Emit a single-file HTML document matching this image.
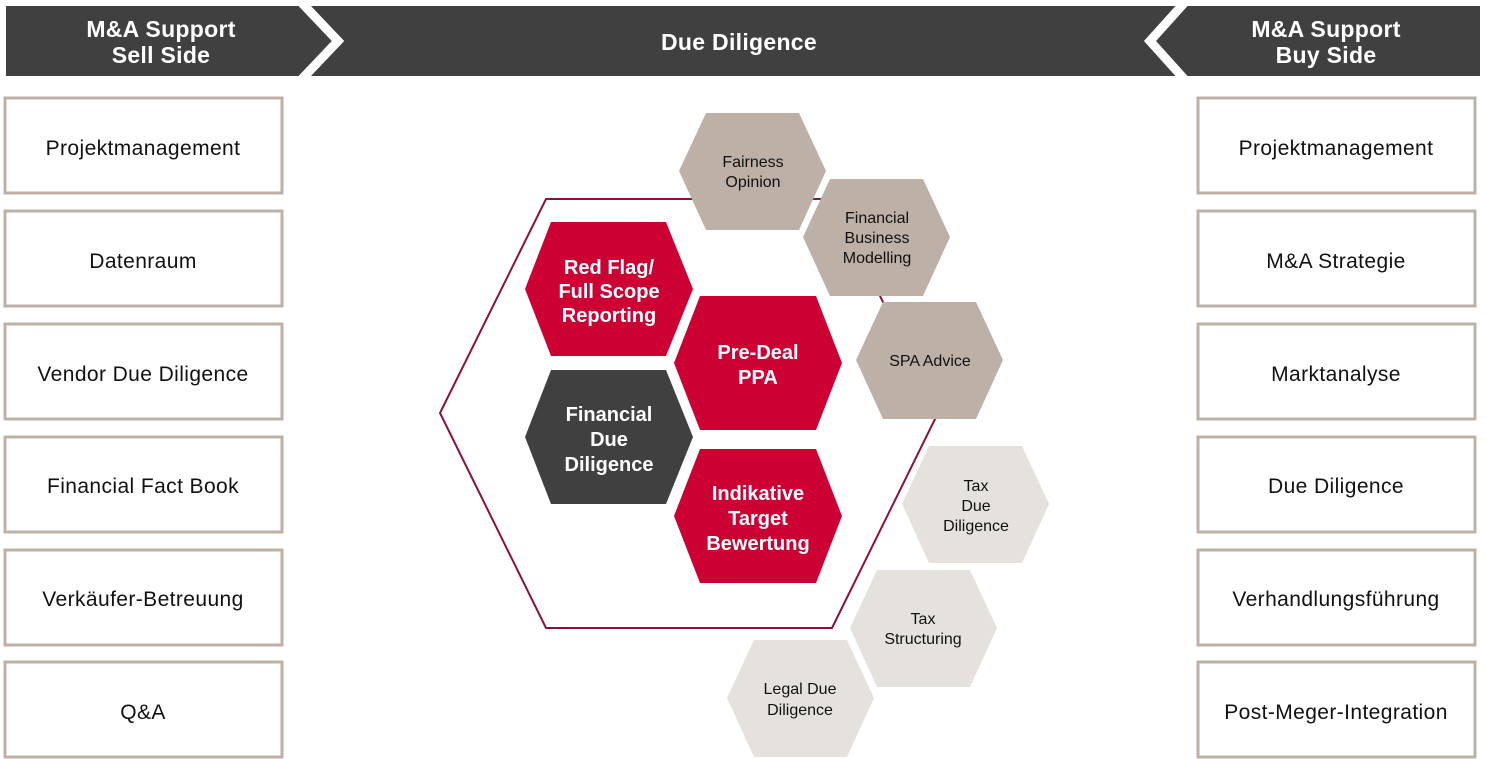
<!DOCTYPE html>
<html><head><meta charset="utf-8"><style>
html,body{margin:0;padding:0;background:#fff;}
svg{display:block;}
text{font-family:"Liberation Sans",sans-serif;}
.bx{fill:#fff;stroke:#bcb0a7;stroke-width:3;}
.bt{font-size:21px;fill:#111;text-anchor:middle;letter-spacing:0.4px;}
.ht{font-size:23px;fill:#fff;text-anchor:middle;font-weight:bold;letter-spacing:0.3px;}
.rt{font-size:20px;fill:#fff;text-anchor:middle;font-weight:bold;}
.st{font-size:16px;fill:#111;text-anchor:middle;}
</style></head><body>
<svg width="1486" height="759" viewBox="0 0 1486 759" xmlns="http://www.w3.org/2000/svg">
<rect x="6" y="6" width="1474" height="70" fill="#404040"/>
<polyline points="300,1 338,41 300,81" fill="none" stroke="#fff" stroke-width="9"/>
<polyline points="1186,1 1150,41 1186,81" fill="none" stroke="#fff" stroke-width="9"/>
<text class="ht" x="161" y="37">M&amp;A Support</text>
<text class="ht" x="161" y="63">Sell Side</text>
<text class="ht" x="739" y="50">Due Diligence</text>
<text class="ht" x="1326" y="37">M&amp;A Support</text>
<text class="ht" x="1326" y="63">Buy Side</text>

<g>
<rect class="bx" x="5" y="98" width="277" height="95"/><text class="bt" x="143" y="155">Projektmanagement</text>
<rect class="bx" x="5" y="211" width="277" height="95"/><text class="bt" x="143" y="268">Datenraum</text>
<rect class="bx" x="5" y="324" width="277" height="95"/><text class="bt" x="143" y="381">Vendor Due Diligence</text>
<rect class="bx" x="5" y="437" width="277" height="95"/><text class="bt" x="143" y="493">Financial Fact Book</text>
<rect class="bx" x="5" y="550" width="277" height="95"/><text class="bt" x="143" y="606">Verkäufer-Betreuung</text>
<rect class="bx" x="5" y="662" width="277" height="95"/><text class="bt" x="143" y="719">Q&amp;A</text>

<rect class="bx" x="1198" y="98" width="277" height="95"/><text class="bt" x="1336" y="155">Projektmanagement</text>
<rect class="bx" x="1198" y="211" width="277" height="95"/><text class="bt" x="1336" y="268">M&amp;A Strategie</text>
<rect class="bx" x="1198" y="324" width="277" height="95"/><text class="bt" x="1336" y="381">Marktanalyse</text>
<rect class="bx" x="1198" y="437" width="277" height="95"/><text class="bt" x="1336" y="493">Due Diligence</text>
<rect class="bx" x="1198" y="550" width="277" height="95"/><text class="bt" x="1336" y="606">Verhandlungsführung</text>
<rect class="bx" x="1198" y="662" width="277" height="95"/><text class="bt" x="1336" y="719">Post-Meger-Integration</text>
</g>

<polygon points="546,199 832,199 938,413 832,628 546,628 440,413" fill="none" stroke="#8c1038" stroke-width="2"/>

<!-- red hexes: w168 h134 inset 26 -->
<polygon points="525,289 551,222 666,222 693,289 666,356 551,356" fill="#cc0033"/>
<polygon points="674,363 700,296 816,296 842,363 816,430 700,430" fill="#cc0033"/>
<polygon points="525,437 551,370 666,370 693,437 666,504 551,504" fill="#404040"/>
<polygon points="674,516 700,449 816,449 842,516 816,583 700,583" fill="#cc0033"/>
<text class="rt" x="609" y="274">Red Flag/</text><text class="rt" x="609" y="298">Full Scope</text><text class="rt" x="609" y="322">Reporting</text>
<text class="rt" x="758" y="359">Pre-Deal</text><text class="rt" x="758" y="384">PPA</text>
<text class="rt" x="609" y="421">Financial</text><text class="rt" x="609" y="446">Due</text><text class="rt" x="609" y="471">Diligence</text>
<text class="rt" x="758" y="500">Indikative</text><text class="rt" x="758" y="525">Target</text><text class="rt" x="758" y="550">Bewertung</text>

<!-- small hexes: w147 h117 inset 27 -->
<polygon points="679,171 706,113 799,113 826,171 799,230 706,230" fill="#bcb0a7"/>
<polygon points="803,237 830,179 923,179 950,237 923,296 830,296" fill="#bcb0a7"/>
<polygon points="856,360 883,302 976,302 1003,360 976,419 883,419" fill="#bcb0a7"/>
<polygon points="902,504 929,446 1022,446 1049,504 1022,563 929,563" fill="#e5e1dd"/>
<polygon points="850,628 877,570 970,570 997,628 970,687 877,687" fill="#e5e1dd"/>
<polygon points="727,698 754,640 847,640 874,698 847,757 754,757" fill="#e5e1dd"/>
<text class="st" x="753" y="167">Fairness</text><text class="st" x="753" y="187">Opinion</text>
<text class="st" x="877" y="223">Financial</text><text class="st" x="877" y="243">Business</text><text class="st" x="877" y="263">Modelling</text>
<text class="st" x="930" y="366">SPA Advice</text>
<text class="st" x="976" y="491">Tax</text><text class="st" x="976" y="511">Due</text><text class="st" x="976" y="531">Diligence</text>
<text class="st" x="923" y="624">Tax</text><text class="st" x="923" y="644">Structuring</text>
<text class="st" x="800" y="694">Legal Due</text><text class="st" x="800" y="715">Diligence</text>
</svg>
</body></html>
